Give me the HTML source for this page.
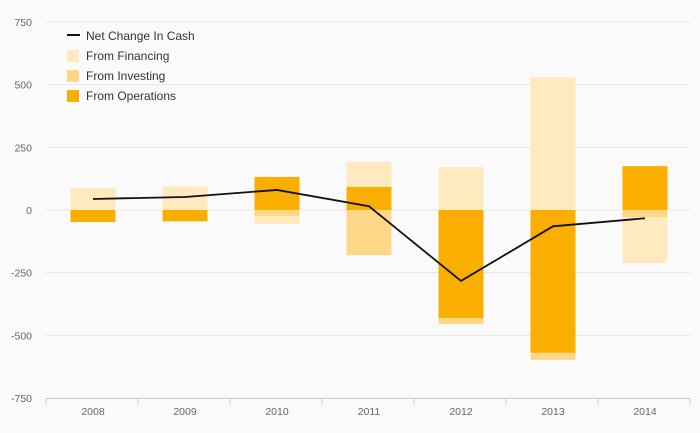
<!DOCTYPE html>
<html><head><meta charset="utf-8"><style>
body{margin:0;background:#fafafa;font-family:"Liberation Sans",sans-serif;}
svg{display:block}
</style></head><body>
<svg id="chart" width="700" height="433">
<rect width="700" height="433" fill="#fafafa"/>
<g id="grid"></g><g id="bars"></g><g id="line"></g><g id="axes"></g>
<g id="legend">
<line x1="67" y1="35" x2="80" y2="35" stroke="#111" stroke-width="2"/>
<text x="86" y="40" font-size="12" fill="#333">Net Change In Cash</text>
<rect x="67" y="50" width="12" height="12" fill="#ffe9bf"/>
<text x="86" y="60" font-size="12" fill="#333">From Financing</text>
<rect x="67" y="70" width="12" height="12" fill="#fdd888"/>
<text x="86" y="80" font-size="12" fill="#333">From Investing</text>
<rect x="67" y="90" width="12" height="12" fill="#f9ae00"/>
<text x="86" y="100" font-size="12" fill="#333">From Operations</text>
</g>
</svg>
<script>
const years=["2008","2009","2010","2011","2012","2013","2014"];
const operations=[-48,-45,132,92,-431,-570,175];
const investing=[0,0,-24,-180,-24,-28,-28];
const financing=[88,95,-32,100,171,530,-183];
const netChange=[44,52,80,15,-283,-65,-33];
const yTicks=[750,500,250,0,-250,-500,-750];
const NS="http://www.w3.org/2000/svg";
const x0=46,x1=690,yTop=22,yBot=398;
const y=v=>yTop+(750-v)/1500*(yBot-yTop);
const band=(x1-x0)/years.length;
const xc=i=>x0+band*(i+0.5)+1;
function mk(t,a,p){const e=document.createElementNS(NS,t);for(const k in a)e.setAttribute(k,a[k]);p.appendChild(e);return e;}
const grid=document.getElementById('grid'),axes=document.getElementById('axes');
yTicks.forEach(t=>{
 const l=mk('line',{x1:x0,x2:x1,y1:y(t),y2:y(t),stroke:'#e6e6e6'},grid);
 
 
 const tx=mk('text',{x:32,y:y(t)+4,'font-size':10.5,fill:'#666','text-anchor':'end'},axes);
 tx.textContent=t;
 
 
});
const ax=mk('line',{x1:x0,x2:x1,y1:yBot+0.5,y2:yBot+0.5,stroke:'#c8d0e6'},axes);


for(let i=0;i<=years.length;i++){
 const tk=mk('line',{x1:x0+band*i,x2:x0+band*i,y1:yBot,y2:yBot+8,stroke:'#c8d0e6'},axes);
 
 
}
years.forEach((yr,i)=>{
 const tx=mk('text',{x:xc(i),y:yBot+17,'font-size':10.5,fill:'#666','text-anchor':'middle'},axes);
 tx.textContent=yr;
 
 
});
const bars=document.getElementById('bars');
const series=[[operations,'#f9ae00','operations'],[investing,'#fdd888','investing'],[financing,'#ffe9bf','financing']];
years.forEach((yr,i)=>{
 let pos=0,neg=0;
 series.forEach(([arr,col,nm])=>{
  const v=arr[i];if(!v)return;
  let a,b;
  if(v>0){a=pos;b=pos+v;pos=b;}else{a=neg;b=neg+v;neg=b;}
  const top=y(Math.max(a,b)),bot=y(Math.min(a,b));
  const r=mk('rect',{x:xc(i)-22.5,y:top,width:45,height:bot-top,fill:col},bars);
  
  
 });
});
const p=mk('path',{d:netChange.map((v,i)=>(i?'L':'M')+xc(i)+' '+y(v)).join(''),fill:'none',stroke:'#111','stroke-width':1.8},document.getElementById('line'));


</script>
</body></html>
